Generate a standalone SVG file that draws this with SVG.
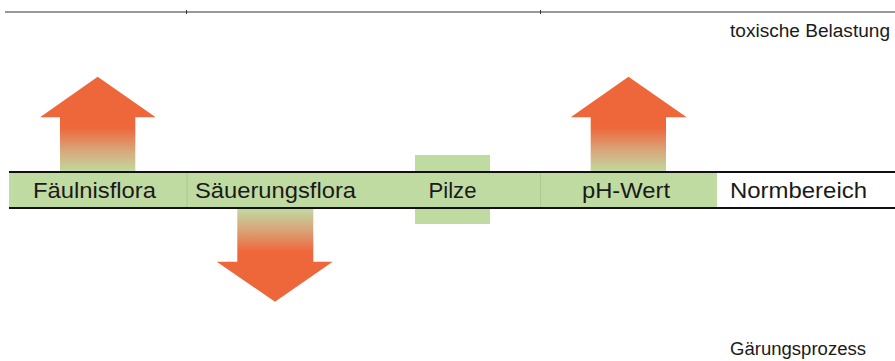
<svg xmlns="http://www.w3.org/2000/svg" width="895" height="361" viewBox="0 0 895 361">
  <defs>
    <linearGradient id="upFade" gradientUnits="userSpaceOnUse" x1="0" y1="117" x2="0" y2="172">
      <stop offset="0" stop-color="#EE673A"/>
      <stop offset="0.2" stop-color="#EE683B"/>
      <stop offset="0.6" stop-color="#D9A57A"/>
      <stop offset="1" stop-color="#C0DBA1"/>
    </linearGradient>
    <linearGradient id="downFade" gradientUnits="userSpaceOnUse" x1="0" y1="208" x2="0" y2="262">
      <stop offset="0" stop-color="#C0DBA1"/>
      <stop offset="0.4" stop-color="#D9A57A"/>
      <stop offset="0.8" stop-color="#EE683B"/>
      <stop offset="1" stop-color="#EE673A"/>
    </linearGradient>
    <style>
      .label { font-family: "Liberation Sans", Arial, sans-serif; font-size: 22px; fill: #1a1a1a; }
      .side { font-family: "Liberation Sans", Arial, sans-serif; font-size: 18px; fill: #1a1a1a; }
      .green { fill: #C0DBA1; }
      .rule { stroke: #111; stroke-width: 2; fill: none; }
      .tick { stroke: #333; stroke-width: 1; }
      .divider { stroke: #9FB888; stroke-width: 0.6; }
    </style>
  </defs>

  <!-- top reference line -->
  <g id="top-line">
    <line x1="5" y1="12" x2="895" y2="12" stroke="#777" stroke-width="1.5"/>
    <line class="tick" x1="186.5" y1="10" x2="186.5" y2="14"/>
    <line class="tick" x1="540.5" y1="10" x2="540.5" y2="14"/>
  </g>

  <!-- normal range band -->
  <g id="band">
    <rect class="green" x="9" y="172" width="708" height="36"/>
  </g>

  <g id="pilze">
    <rect class="green" x="415" y="155" width="75" height="69"/>
    <text class="label" x="452.5" y="197.5" text-anchor="middle" textLength="48" lengthAdjust="spacingAndGlyphs">Pilze</text>
  </g>

  <g id="band-lines">
    <line class="divider" x1="187" y1="172" x2="187" y2="208"/>
    <line class="divider" x1="540.5" y1="172" x2="540.5" y2="208"/>
    <line class="rule" x1="9" y1="172" x2="895" y2="172"/>
    <line class="rule" x1="9" y1="208" x2="895" y2="208"/>
  </g>

  <!-- arrows -->
  <g id="connectors">
    <polygon id="arrow-faeulnis" fill="url(#upFade)" points="97.7,76.7 155.7,117.3 135.3,117.3 135.3,171 60,171 60,117.3 40,117.3"/>
    <polygon id="arrow-ph" fill="url(#upFade)" points="628.5,76.7 686.7,117.3 666,117.3 666,171 590.7,171 590.7,117.3 570.7,117.3"/>
    <polygon id="arrow-saeuerung" fill="url(#downFade)" points="237.3,209 313.3,209 313.3,261.7 332.7,261.7 275,301.7 216.7,261.7 237.3,261.7"/>
  </g>

  <g id="faeulnisflora">
    <text class="label" x="33" y="197.5" textLength="123" lengthAdjust="spacingAndGlyphs">Fäulnisflora</text>
  </g>
  <g id="saeuerungsflora">
    <text class="label" x="195" y="197.5" textLength="161" lengthAdjust="spacingAndGlyphs">Säuerungsflora</text>
  </g>
  <g id="ph-wert">
    <text class="label" x="582" y="197.5" textLength="88" lengthAdjust="spacingAndGlyphs">pH-Wert</text>
  </g>
  <g id="normbereich">
    <text class="label" x="730" y="197.5" textLength="137" lengthAdjust="spacingAndGlyphs">Normbereich</text>
  </g>

  <g id="toxische-belastung">
    <text class="side" x="730" y="37" textLength="160" lengthAdjust="spacingAndGlyphs">toxische Belastung</text>
  </g>
  <g id="gaerungsprozess">
    <text class="side" x="730" y="355" textLength="136" lengthAdjust="spacingAndGlyphs">Gärungsprozess</text>
  </g>
</svg>
